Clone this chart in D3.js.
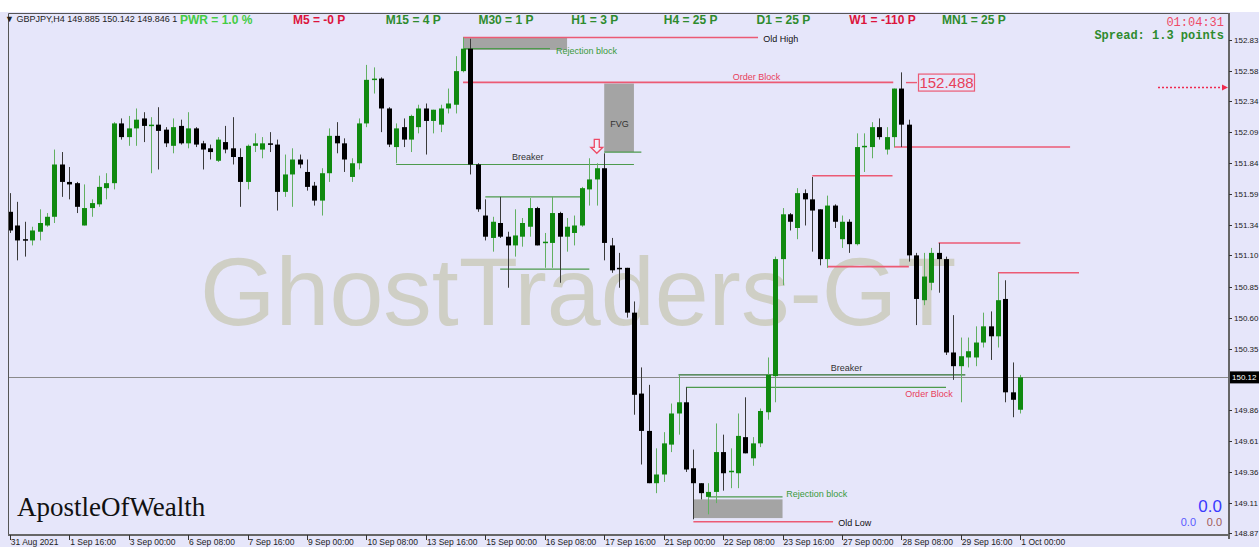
<!DOCTYPE html>
<html>
<head>
<meta charset="utf-8">
<script src="https://cdn.jsdelivr.net/npm/d3@7"></script>
<style>
html, body { margin: 0; padding: 0; background: #e6e6fa; overflow: hidden; }
svg { display: block; }
</style>
</head>
<body>
<div id="chart"></div>
<script>
// GBPJPY H4 bars, 31 Aug 08:00 .. 1 Oct 00:00
const opens = [151.45,151.34,151.23,151.22,151.29,151.34,151.41,151.83,151.69,151.68,
  151.34,151.48,151.51,151.64,151.68,152.16,152.05,152.12,152.20,152.14,
  152.15,152.11,151.98,152.14,152.00,152.12,152.00,151.96,151.86,152.01,
  151.96,151.89,151.69,151.98,151.95,152.00,151.99,151.61,151.75,151.87,
  151.77,151.66,151.54,151.76,152.06,152.00,151.73,151.84,152.16,152.51,
  152.52,152.28,151.97,152.13,152.03,152.13,152.28,152.18,152.15,152.28,
  152.31,152.58,152.76,151.83,151.42,151.24,151.36,151.25,151.18,151.25,
  151.33,151.48,151.20,151.20,151.44,151.25,151.28,151.34,151.63,151.71,
  151.80,151.18,151.00,151.00,150.64,149.99,149.69,149.27,149.34,149.58,
  149.83,149.92,149.39,149.27,149.16,149.20,149.52,149.36,149.35,149.64,
  149.47,149.59,149.84,150.13,151.07,151.43,151.32,151.60,151.55,151.47,
  151.07,151.50,151.23,151.37,151.19,151.97,151.97,152.13,151.95,152.05,
  152.44,152.15,151.10,150.74,150.88,151.12,151.07,150.32,150.21,150.28,
  150.28,150.40,150.53,150.45,150.75,150.00,149.86];
const highs = [151.60,151.53,151.37,151.33,151.47,151.44,151.95,151.93,151.81,151.69,
  151.67,151.55,151.74,151.76,152.17,152.20,152.22,152.28,152.25,152.21,
  152.29,152.13,152.20,152.19,152.25,152.13,152.02,151.99,152.05,152.14,
  152.21,151.96,151.99,152.08,152.05,152.09,152.03,151.91,151.96,151.91,
  151.87,151.69,151.80,152.12,152.17,152.04,151.88,152.20,152.63,152.61,
  152.53,152.29,152.16,152.20,152.23,152.31,152.32,152.27,152.31,152.44,
  152.70,152.85,152.84,151.84,151.55,151.41,151.57,151.29,151.47,151.40,
  151.56,151.49,151.28,151.57,151.45,151.40,151.42,151.65,151.88,151.84,
  151.92,151.24,151.12,151.00,150.73,150.20,150.06,149.55,149.68,149.91,
  150.14,150.04,149.54,149.27,149.27,149.75,149.66,149.55,149.83,149.96,
  149.64,149.87,150.28,151.09,151.48,151.44,151.64,151.63,151.73,151.47,
  151.58,151.51,151.42,151.39,152.08,152.08,152.17,152.20,152.13,152.44,
  152.57,152.19,151.12,151.12,151.16,151.20,151.09,150.62,150.44,150.44,
  150.53,150.64,150.65,150.96,150.90,150.24,150.14];
const lows = [151.28,151.06,151.09,151.18,151.22,151.33,151.36,151.57,151.55,151.44,
  151.34,151.41,151.49,151.55,151.63,152.03,151.98,151.98,152.01,151.76,
  151.79,151.97,151.92,151.99,151.96,151.97,151.79,151.87,151.85,151.92,
  151.83,151.49,151.63,151.93,151.88,151.93,151.46,151.57,151.49,151.80,
  151.62,151.50,151.42,151.69,151.92,151.77,151.69,151.79,152.13,152.40,
  152.09,151.97,151.84,151.97,151.93,152.08,151.91,152.08,152.09,152.24,
  152.24,152.57,151.75,151.45,151.22,151.13,151.24,150.84,151.09,151.17,
  151.25,151.18,151.00,151.00,150.88,151.13,151.18,151.33,151.50,151.50,
  151.06,150.96,150.84,150.60,149.82,149.42,149.27,149.19,149.28,149.52,
  149.66,149.36,148.98,149.14,149.02,149.11,149.21,149.23,149.23,149.51,
  149.41,149.56,149.78,149.92,150.86,151.30,151.23,151.34,151.13,151.02,
  151.00,151.32,151.16,151.12,151.18,151.77,151.88,152.03,151.91,151.97,
  151.97,151.05,150.54,150.70,150.82,150.80,150.30,150.10,149.92,150.20,
  150.21,150.36,150.26,150.36,149.92,149.80,149.83];
const closes = [151.30,151.22,151.22,151.30,151.36,151.41,151.83,151.69,151.67,151.49,
  151.48,151.52,151.65,151.68,152.16,152.05,152.12,152.19,152.14,152.15,
  152.10,152.00,152.13,152.00,152.12,151.99,151.95,151.93,152.03,151.95,
  151.89,151.69,151.98,152.00,152.00,151.99,151.61,151.75,151.87,151.83,
  151.65,151.54,151.76,152.06,152.00,151.87,151.84,152.16,152.51,152.52,
  152.28,151.99,152.12,152.03,152.22,152.28,152.18,152.27,152.28,152.32,
  152.58,152.76,151.83,151.47,151.25,151.37,151.25,151.18,151.26,151.36,
  151.48,151.18,151.21,151.44,151.25,151.33,151.34,151.64,151.71,151.80,
  151.20,150.98,150.99,150.64,149.98,149.69,149.27,149.34,149.59,149.83,
  149.92,149.38,149.27,149.19,149.20,149.52,149.35,149.37,149.65,149.51,
  149.59,149.85,150.14,151.07,151.43,151.37,151.60,151.55,151.46,151.07,
  151.50,151.37,151.37,151.19,151.97,151.98,152.13,152.05,152.05,152.44,
  152.15,151.10,150.75,150.93,151.12,151.07,150.32,150.21,150.29,150.33,
  150.40,150.53,150.45,150.74,150.00,149.94,150.12];

// one label every 8 bars
const timeLabels = ["31 Aug 2021","1 Sep 16:00","3 Sep 00:00","6 Sep 08:00","7 Sep 16:00",
  "9 Sep 00:00","10 Sep 08:00","13 Sep 16:00","15 Sep 00:00","16 Sep 08:00","17 Sep 16:00",
  "21 Sep 00:00","22 Sep 08:00","23 Sep 16:00","27 Sep 00:00","28 Sep 08:00","29 Sep 16:00",
  "1 Oct 00:00"];
// 150.11 sits under the bid tag, so it is left out
const priceTicks = [152.83,152.58,152.34,152.09,151.84,151.59,151.34,151.10,150.85,
  150.60,150.35,149.86,149.61,149.36,149.11,148.87];

// top strip: timeframe strength
const tfNames = ["M5","M15","M30","H1","H4","D1","W1","MN1"];
const tfPoints = ["-0", "4", "1", "3", "25", "25", "-110", "25"];

// annotations: [fromBar, toBar, price]
const redLevels = [[61,100.7,152.85],[61,118.9,152.49],[119,142.7,151.97],[108,118.8,151.74],
  [110,121,151.01],[125,136,151.20],[133,143.9,150.96],[92,110.8,148.96]];
const greenLevels = [[61,72.7,152.76],[80,85,151.93],[52,84,151.83],[64,77,151.57],
  [66,78,150.99],[91,126,150.04],[94,104,149.16]];
const breakerLevel = [90,128.6,150.14];
// [fromBar, toBar, top, bottom]
const grayBoxes = [[61,75,152.85,152.75],[80,84,152.48,151.93],[92,104,149.14,148.99]];
// [text, bar, price, kind]
const notes = [["Old High",101.4,152.81,"black"],["Rejection block",73.5,152.72,"green"],
  ["Order Block",97.3,152.51,"red"],["FVG",80.8,152.13,"gray"],["Breaker",67.6,151.87,"gray"],
  ["Breaker",110.5,150.17,"gray"],["Order Block",120.5,149.96,"red"],
  ["Rejection block",104.5,149.16,"green"],["Old Low",111.5,148.93,"black"]];
const obPrice = 152.488;

const width = 1259, height = 547;
const plot = {left: 8, top: 13, right: 1229, bottom: 535};
const noteColor = {black: "#111", green: "#3a9a3a", red: "#e8405a", gray: "#333"};

const svg = d3.select("#chart").append("svg")
  .attr("width", width).attr("height", height)
  .style("font-family", "'Liberation Sans', Arial, sans-serif");

const x = d3.scaleLinear().domain([0, 136]).range([9.8, 1020.3]);
const y = d3.scaleLinear().domain([148.87, 152.83]).range([533, 40]);

// backgrounds
svg.append("rect").attr("width", width).attr("height", height).attr("fill", "#e6e6fa");
svg.append("rect").attr("width", width).attr("height", 12).attr("fill", "#fff");

svg.append("defs").append("clipPath").attr("id", "clip")
  .append("rect").attr("x", plot.left).attr("y", plot.top)
  .attr("width", plot.right - plot.left).attr("height", plot.bottom - plot.top);

const g = svg.append("g").attr("clip-path", "url(#clip)");

// watermark
g.append("text").attr("x", 200).attr("y", 325)
  .attr("font-size", 97).attr("fill", "#cfcfc5")
  .text("GhostTraders-GT");

// gray boxes
g.selectAll(".box").data(grayBoxes).enter().append("rect")
  .attr("x", d => x(d[0])).attr("width", d => x(d[1]) - x(d[0]))
  .attr("y", d => y(d[2])).attr("height", d => y(d[3]) - y(d[2]))
  .attr("fill", "#a4a4a4");

// current bid line
const last = closes[closes.length - 1];
g.append("line").attr("x1", plot.left).attr("x2", plot.right)
  .attr("y1", Math.round(y(last)) + 0.5).attr("y2", Math.round(y(last)) + 0.5)
  .attr("stroke", "#8a8a8a").attr("stroke-width", 1.2);

// levels
g.selectAll(".red").data(redLevels).enter().append("line")
  .attr("x1", d => x(d[0])).attr("x2", d => x(d[1]))
  .attr("y1", d => y(d[2])).attr("y2", d => y(d[2]))
  .attr("stroke", "#ec5a74").attr("stroke-width", 1.6);
g.selectAll(".green").data(greenLevels).enter().append("line")
  .attr("x1", d => x(d[0])).attr("x2", d => x(d[1]))
  .attr("y1", d => y(d[2])).attr("y2", d => y(d[2]))
  .attr("stroke", "#4d9a4d").attr("stroke-width", 1.2);
g.append("line")
  .attr("x1", x(breakerLevel[0])).attr("x2", x(breakerLevel[1]))
  .attr("y1", y(breakerLevel[2])).attr("y2", y(breakerLevel[2]))
  .attr("stroke", "#2f6f2f").attr("stroke-width", 1.4);

// candles
const bars = opens.map((o, i) => ({i, o, h: highs[i], l: lows[i], c: closes[i]}));
const cg = g.append("g");
cg.selectAll(".wick").data(bars).enter().append("line")
  .attr("x1", d => Math.round(x(d.i)) + 0.5).attr("x2", d => Math.round(x(d.i)) + 0.5)
  .attr("y1", d => y(d.h)).attr("y2", d => y(d.l))
  .attr("stroke", d => d.c >= d.o ? "#62b062" : "#3a3a3a").attr("stroke-width", 1);
cg.selectAll(".body").data(bars).enter().append("rect")
  .attr("x", d => Math.round(x(d.i)) - 2).attr("width", 5)
  .attr("y", d => y(Math.max(d.o, d.c)))
  .attr("height", d => Math.max(1.5, Math.abs(y(d.o) - y(d.c))))
  .attr("fill", d => d.c >= d.o ? "#108a10" : "#000");

// notes
g.selectAll(".note").data(notes).enter().append("text")
  .attr("x", d => x(d[1])).attr("y", d => y(d[2]))
  .attr("font-size", 9).attr("fill", d => noteColor[d[3]])
  .text(d => d[0]);

// order block price tag
const obY = y(obPrice);
g.append("line").attr("x1", 906).attr("x2", 917).attr("y1", obY).attr("y2", obY)
  .attr("stroke", "#ec5a74").attr("stroke-width", 1.4);
g.append("rect").attr("x", 918.5).attr("y", obY - 8.5).attr("width", 56).attr("height", 17)
  .attr("fill", "none").attr("stroke", "#ec5a74").attr("stroke-width", 1.2);
g.append("text").attr("x", 946.5).attr("y", obY + 5.5).attr("text-anchor", "middle")
  .attr("font-size", 15).attr("fill", "#e8405a").text(d3.format(".3f")(obPrice));

// hollow down arrow over the sweep bar
const ax = x(79), ay = y(151.92);
g.append("path")
  .attr("d", `M${ax},${ay} l-6,-6 h3.5 v-8 h5 v8 h3.5 z`)
  .attr("fill", "#fff").attr("fill-opacity", 0.4)
  .attr("stroke", "#ee4a66").attr("stroke-width", 1.3);

// dotted arrow at right
g.append("line").attr("x1", 1158).attr("x2", 1222).attr("y1", 87.5).attr("y2", 87.5)
  .attr("stroke", "#f02a4e").attr("stroke-width", 1.3).attr("stroke-dasharray", "2,2");
g.append("path").attr("d", "M1228,87.5 l-6,-3 v6 z").attr("fill", "#f02a4e");

// frame
svg.append("path")
  .attr("d", `M${plot.left + 0.5},${plot.bottom} V${plot.top + 0.5} H${plot.right}`)
  .attr("fill", "none").attr("stroke", "#555").attr("stroke-width", 1);
svg.append("line").attr("x1", plot.right).attr("x2", plot.right)
  .attr("y1", plot.top).attr("y2", plot.bottom + 4)
  .attr("stroke", "#666").attr("stroke-width", 2);
svg.append("line").attr("x1", plot.left).attr("x2", plot.right)
  .attr("y1", plot.bottom).attr("y2", plot.bottom)
  .attr("stroke", "#666").attr("stroke-width", 2);

// price axis
const ya = svg.append("g");
ya.selectAll("line").data(priceTicks).enter().append("line")
  .attr("x1", plot.right).attr("x2", plot.right + 3)
  .attr("y1", d => Math.round(y(d)) + 0.5).attr("y2", d => Math.round(y(d)) + 0.5)
  .attr("stroke", "#333");
ya.selectAll("text").data(priceTicks).enter().append("text")
  .attr("x", plot.right + 5).attr("y", d => y(d) + 3)
  .attr("font-size", 8).attr("fill", "#222")
  .text(d => d3.format(".2f")(d));

// bid tag
svg.append("rect").attr("x", plot.right + 1).attr("y", y(last) - 6)
  .attr("width", 30).attr("height", 12).attr("fill", "#000");
svg.append("text").attr("x", plot.right + 3).attr("y", y(last) + 3)
  .attr("font-size", 8).attr("fill", "#fff").text(d3.format(".2f")(last));

// time axis
const xa = svg.append("g");
xa.selectAll("line").data(timeLabels).enter().append("line")
  .attr("x1", (d, k) => Math.round(x(k * 8)) + 0.5).attr("x2", (d, k) => Math.round(x(k * 8)) + 0.5)
  .attr("y1", plot.bottom).attr("y2", plot.bottom + 5).attr("stroke", "#333");
xa.selectAll("text").data(timeLabels).enter().append("text")
  .attr("x", (d, k) => x(k * 8) + 1).attr("y", 545)
  .attr("font-size", 8.5).attr("fill", "#222").text(d => d);

// header line
svg.append("text").attr("x", 5).attr("y", 22).attr("font-size", 9).attr("fill", "#222")
  .text("\u25BC GBPJPY,H4  149.885 150.142 149.846 1");
svg.append("text").attr("x", 180).attr("y", 24).attr("font-size", 12).attr("font-weight", "bold")
  .attr("fill", "#44cc44").text("PWR = 1.0 %");
const tfX = d3.scaleLinear().domain([0, 7]).range([293, 942]);
svg.selectAll(".tf").data(tfNames).enter().append("text")
  .attr("x", (d, k) => tfX(k)).attr("y", 24)
  .attr("font-size", 12).attr("font-weight", "bold")
  .attr("fill", (d, k) => tfPoints[k].startsWith("-") ? "#dc143c" : "#2e8b2e")
  .text((d, k) => `${d} = ${tfPoints[k]} P`);

svg.append("text").attr("x", 1224).attr("y", 26).attr("text-anchor", "end")
  .attr("font-family", "'Liberation Mono', monospace").attr("font-size", 12)
  .attr("fill", "#ee4a66").text("01:04:31");
svg.append("text").attr("x", 1224).attr("y", 39).attr("text-anchor", "end")
  .attr("font-family", "'Liberation Mono', monospace").attr("font-size", 12)
  .attr("font-weight", "bold").attr("fill", "#2e8b2e").text("Spread: 1.3 points");

// signature and counters
svg.append("text").attr("x", 17).attr("y", 516)
  .attr("font-family", "'Liberation Serif', 'Times New Roman', serif")
  .attr("font-size", 27).attr("fill", "#111").text("ApostleOfWealth");
svg.append("text").attr("x", 1222).attr("y", 512).attr("text-anchor", "end")
  .attr("font-size", 17).attr("fill", "#3a3aff").text("0.0");
svg.append("text").attr("x", 1196).attr("y", 526).attr("text-anchor", "end")
  .attr("font-size", 11).attr("fill", "#5a5aff").text("0.0");
svg.append("text").attr("x", 1222).attr("y", 526).attr("text-anchor", "end")
  .attr("font-size", 11).attr("fill", "#a05a5a").text("0.0");
</script>
</body>
</html>
